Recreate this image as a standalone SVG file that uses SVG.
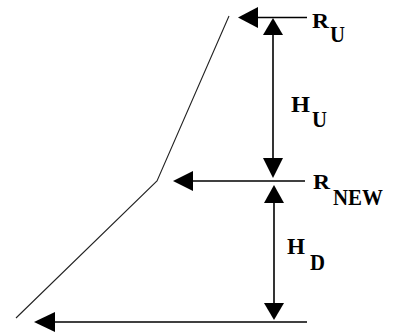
<svg xmlns="http://www.w3.org/2000/svg" width="401" height="333" viewBox="0 0 401 333">
<style>
.ln{stroke:#000;stroke-width:1.6;fill:none}
.sl{stroke:#222;stroke-width:1.1;fill:none}
.ah{fill:#000}
text{font-family:"Liberation Serif",serif;font-weight:bold;font-size:23px;fill:#000}
.r{font-size:20px}
</style>
<rect width="401" height="333" fill="#fff"/>
<g id="slope">
<polyline class="sl" points="229,16 157,181 16,318"/>
</g>
<g id="connectors">
<line class="ln" x1="255" y1="17.5" x2="307" y2="17.5"/>
<polygon class="ah" points="238,17.5 258,7 258,28"/>
<line class="ln" x1="190" y1="181" x2="305" y2="181"/>
<polygon class="ah" points="173,181 193,171 193,191"/>
<line class="ln" x1="52" y1="322" x2="307" y2="322"/>
<polygon class="ah" points="34,322 55,312 55,332"/>
<line class="ln" x1="273" y1="34" x2="273" y2="160"/>
<polygon class="ah" points="273,18 263,35 283,35"/>
<polygon class="ah" points="273,178 263,158 283,158"/>
<line class="ln" x1="274" y1="202" x2="274" y2="304"/>
<polygon class="ah" points="274,185 264,203 284,203"/>
<polygon class="ah" points="274,320 264,303 284,303"/>
</g>
<g id="RU"><text class="r" x="312" y="28" textLength="17" lengthAdjust="spacingAndGlyphs">R</text><text x="330" y="42" textLength="15" lengthAdjust="spacingAndGlyphs">U</text></g>
<g id="HU"><text x="291" y="112" textLength="19" lengthAdjust="spacingAndGlyphs">H</text><text x="312" y="127" textLength="15" lengthAdjust="spacingAndGlyphs">U</text></g>
<g id="RNEW"><text class="r" x="313" y="189" textLength="17" lengthAdjust="spacingAndGlyphs">R</text><text x="333" y="205" textLength="50" lengthAdjust="spacingAndGlyphs">NEW</text></g>
<g id="HD"><text x="287" y="254" textLength="18" lengthAdjust="spacingAndGlyphs">H</text><text x="310" y="270" textLength="15" lengthAdjust="spacingAndGlyphs">D</text></g>
</svg>
